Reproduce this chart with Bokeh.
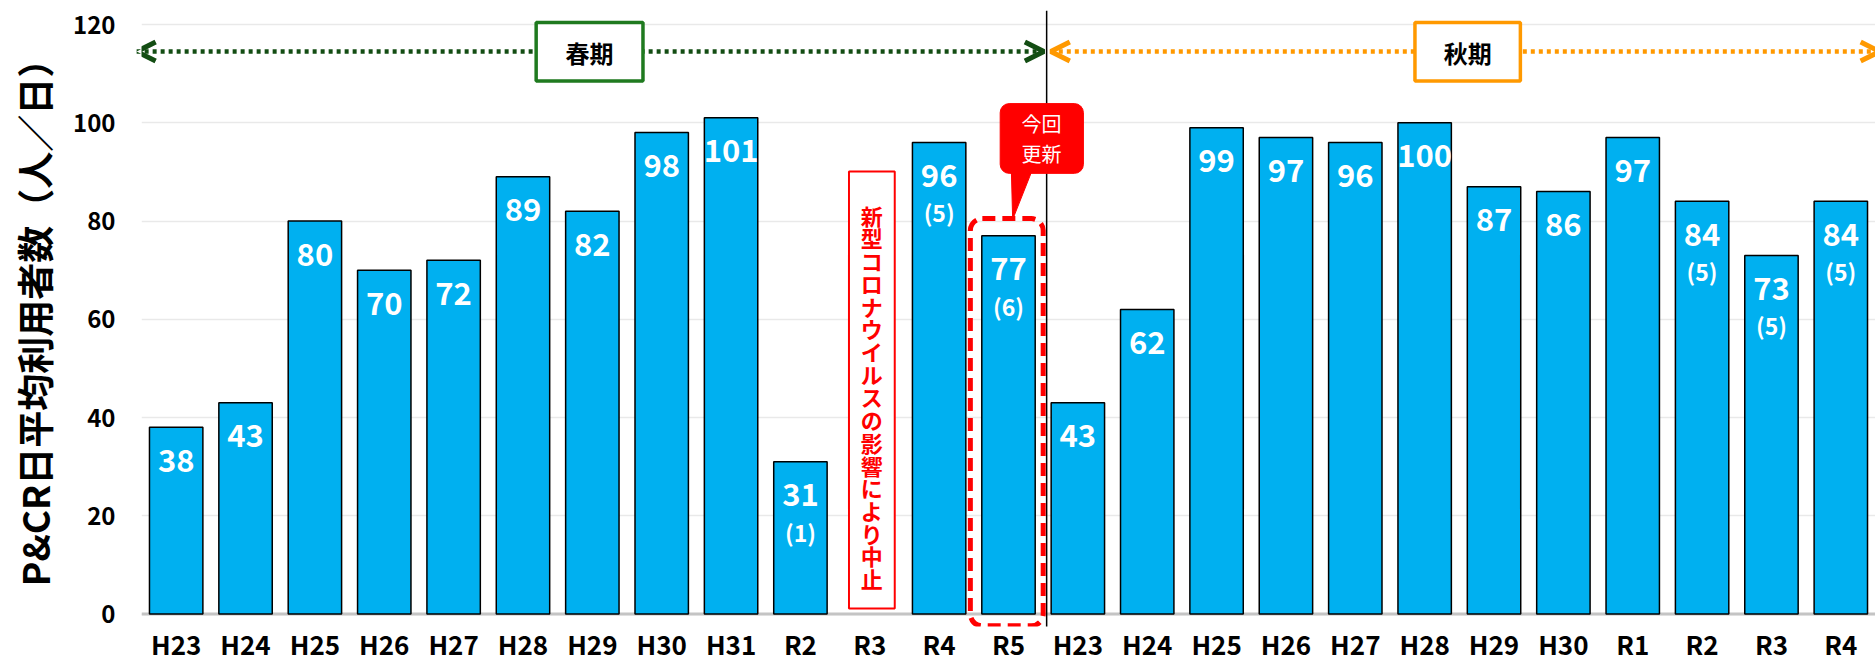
from bokeh.plotting import figure
from bokeh.models import (ColumnDataSource, FixedTicker, BoxAnnotation, Arrow,
                          OpenHead, Label, LabelSet, Span)
from bokeh.core.properties import value
from bokeh.embed import file_html
from bokeh.resources import INLINE

# ---------------- data ----------------
spring_years = ["H23", "H24", "H25", "H26", "H27", "H28", "H29", "H30", "H31",
                "R2", "R3", "R4", "R5"]
spring_values = [38, 43, 80, 70, 72, 89, 82, 98, 101, 31, None, 96, 77]
spring_notes = ["", "", "", "", "", "", "", "", "", "(1)", "", "(5)", "(6)"]

autumn_years = ["H23", "H24", "H25", "H26", "H27", "H28", "H29", "H30", "R1",
                "R2", "R3", "R4"]
autumn_values = [43, 62, 99, 97, 96, 100, 87, 86, 97, 84, 73, 84]
autumn_notes = ["", "", "", "", "", "", "", "", "", "(5)", "(5)", "(5)"]

y_ticks = [0, 20, 40, 60, 80, 100, 120]
season_labels = ["春期", "秋期"]
y_title = "P&CR日平均利用者数（人／日）"
suspended_note = "新型コロナウイルスの影響により中止"
update_note = "今回\n更新"

# ---------------- build ----------------
FONT = "Noto Sans CJK JP"
cats = spring_years + autumn_years
vals = spring_values + autumn_values
notes = spring_notes + autumn_notes
xs = list(range(len(cats)))

bx = [x for x, v in zip(xs, vals) if v is not None]
bv = [v for v in vals if v is not None]
bl = [str(v) for v in bv]
bn = [n for n, v in zip(notes, vals) if v is not None]
bars = ColumnDataSource(dict(x=bx, v=bv, lab=bl, note=bn))

p = figure(width=1875, height=664, x_range=(-0.5, len(cats) - 0.5),
           y_range=(-2.54, 124.89),
           output_backend="svg", toolbar_location=None,
           min_border_left=141, min_border_right=0, min_border_top=0,
           min_border_bottom=38)
p.outline_line_color = None
p.background_fill_color = "white"
p.border_fill_color = "white"

ax = p.yaxis[0]
ax.ticker = FixedTicker(ticks=y_ticks)
ax.axis_line_color = None
ax.major_tick_line_color = None
ax.minor_tick_line_color = None
ax.major_label_text_font = FONT
ax.major_label_text_font_style = "bold"
ax.major_label_text_font_size = "24px"
ax.major_label_text_color = "black"
ax.major_label_standoff = 20
ax.axis_label = y_title
ax.axis_label_text_font = FONT
ax.axis_label_text_font_style = "bold"
ax.axis_label_text_font_size = "37px"
ax.axis_label_text_color = "black"
ax.axis_label_standoff = 9

xa = p.xaxis[0]
xa.ticker = FixedTicker(ticks=xs)
xa.major_label_overrides = {i: c for i, c in zip(xs, cats)}
xa.axis_line_color = None
xa.major_tick_line_color = None
xa.minor_tick_line_color = None
xa.major_label_text_font = FONT
xa.major_label_text_font_style = "bold"
xa.major_label_text_font_size = "26px"
xa.major_label_text_color = "black"
xa.major_label_standoff = -8

for g in p.grid:
    if g.dimension == 0:
        g.visible = False
    else:
        g.ticker = FixedTicker(ticks=y_ticks)
        g.grid_line_color = "#e9e9e9"
        g.grid_line_width = 1.5

# zero line
p.add_layout(Span(location=0, dimension="width", line_color="#c4c4c4",
                  line_width=3, level="underlay"))

# bars
p.vbar(x="x", top="v", width=0.77, source=bars, fill_color="#00B0F0",
       line_color="black", line_width=1.5)

# suspended box (spring R3)
p.rect(x=[10.03], y=[45.6], width=0.66, height=89.0, fill_color="white",
       line_color="#ff0000", line_width=2)

# callout tail
p.patch(x=[12.04, 12.36, 12.06], y=[91.0, 91.0, 80.3], fill_color="#ff0000",
        line_color="#ff0000", line_width=1)

# value labels
p.add_layout(LabelSet(x="x", y="v", text="lab", source=bars, text_color="white",
                      text_font=value(FONT), text_font_style="bold",
                      text_font_size="31px", text_align="center",
                      text_baseline="middle", y_offset=-33))
p.add_layout(LabelSet(x="x", y="v", text="note", source=bars,
                      text_color="white", text_font=value(FONT),
                      text_font_style="bold", text_font_size="23px",
                      text_align="center", text_baseline="middle",
                      y_offset=-70))

p.add_layout(Label(x=10.03, y=44.3, text="\n".join(suspended_note),
                   text_color="#ff0000", text_font=FONT,
                   text_font_style="bold", text_font_size="22px",
                   text_line_height=0.71, text_align="center",
                   text_baseline="middle"))

# season separator
p.add_layout(Arrow(x_start=12.55, y_start=-7.4, x_end=12.55, y_end=122.8,
                   line_color="black", line_width=1.5, end=None))

# dashed box around latest bar
p.add_layout(BoxAnnotation(left=11.45, right=12.50, top=80.5, bottom=-2.4,
                           fill_alpha=0, line_color="#ff0000", line_alpha=1,
                           line_width=5, line_dash="13 7", border_radius=12))

# callout
p.add_layout(BoxAnnotation(left=11.88, right=13.08, top=103.9, bottom=89.7,
                           fill_color="#ff0000", fill_alpha=1,
                           line_color="#ff0000", line_alpha=1, line_width=1,
                           border_radius=9))
p.add_layout(Label(x=12.476, y=96.8, text=update_note, text_color="white",
                   text_font=FONT, text_font_size="20px", text_align="center",
                   text_baseline="middle", text_line_height=1.03))

# season arrows
green_dark = "#134d13"
orange = "#ff9900"
p.add_layout(Arrow(x_start=-0.57, y_start=114.5, x_end=12.51, y_end=114.5,
                   line_color=green_dark, line_width=4.5, line_dash="4 4",
                   start=OpenHead(size=19, line_color=green_dark, line_width=5),
                   end=OpenHead(size=19, line_color=green_dark, line_width=5)))
p.add_layout(Arrow(x_start=12.61, y_start=114.5, x_end=24.56, y_end=114.5,
                   line_color=orange, line_width=4.5, line_dash="4 4",
                   start=OpenHead(size=19, line_color=orange, line_width=5),
                   end=OpenHead(size=19, line_color=orange, line_width=5)))

# season boxes
for (l, r), col, txt in [((5.19, 6.73), "#1f7a1f", season_labels[0]),
                         ((17.86, 19.38), orange, season_labels[1])]:
    p.add_layout(BoxAnnotation(left=l, right=r, top=120.4, bottom=108.5,
                               fill_color="white", fill_alpha=1,
                               line_color=col, line_alpha=1, line_width=3.5))
    p.add_layout(Label(x=(l + r) / 2, y=114.3, text=txt, text_color="black",
                       text_font=FONT, text_font_style="bold",
                       text_font_size="24px", text_align="center",
                       text_baseline="middle"))

open("out.html", "w").write(file_html(p, INLINE))
